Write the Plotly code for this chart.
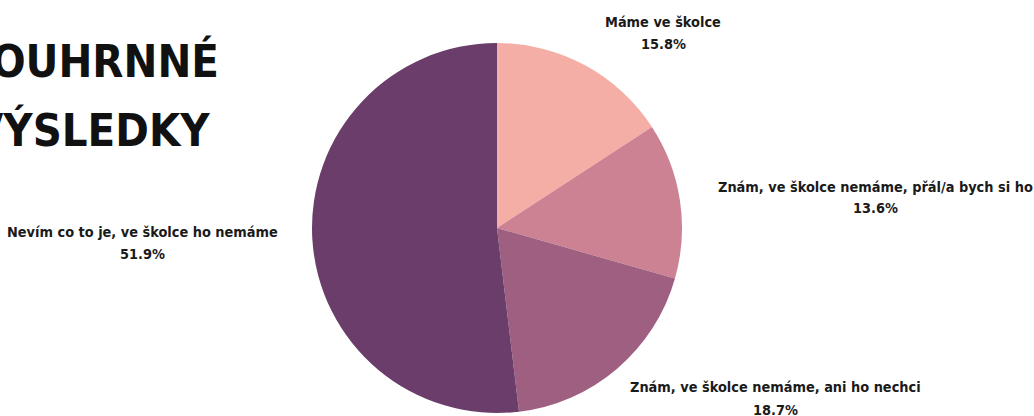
import plotly.graph_objects as go

categories = [
    "Máme ve školce",
    "Znám, ve školce nemáme, přál/a bych si ho",
    "Znám, ve školce nemáme, ani ho nechci",
    "Nevím co to je, ve školce ho nemáme",
]
values = [15.8, 13.6, 18.7, 51.9]
colors = ["#F5AEA6", "#CC8293", "#9E5F80", "#6B3D6B"]
title_lines = ["SOUHRNNÉ", "VÝSLEDKY"]

W, H = 1034, 416
LABEL_FONT = "DejaVu Sans Condensed, DejaVu Sans, sans-serif"

fig = go.Figure(
    go.Pie(
        labels=categories,
        values=values,
        sort=False,
        direction="clockwise",
        rotation=0,
        textinfo="none",
        hoverinfo="label+percent",
        marker=dict(colors=colors, line=dict(width=0)),
        showlegend=False,
        domain=dict(x=[312 / W, 682 / W], y=[1 - 413 / H, 1 - 43 / H]),
    )
)

# label placement (pixel centres): x, y of name line, y of percent line
label_pos = [(663, 22, 44), (875, 187, 208), (775, 387, 410), (142, 232, 254)]
total = sum(values)
for cat, val, (px, py1, py2) in zip(categories, values, label_pos):
    for txt, py in ((cat, py1), (f"{val / total * 100:.1f}%", py2)):
        fig.add_annotation(
            x=px / W, y=1 - py / H, xref="paper", yref="paper",
            xanchor="center", yanchor="middle",
            text=f"<b>{txt}</b>",
            showarrow=False, align="center",
            font=dict(family=LABEL_FONT, size=14.4, color="#1a1a1a"),
        )

title_pos = [(221, 61), (212, 130)]
for line, (px, py) in zip(title_lines, title_pos):
    fig.add_annotation(
        x=px / W, y=1 - py / H, xref="paper", yref="paper",
        xanchor="right", yanchor="middle",
        text=f"<b>{line}</b>", showarrow=False,
        font=dict(family=LABEL_FONT, size=45, color="#111111"),
    )

fig.update_layout(
    width=W, height=H,
    margin=dict(l=0, r=0, t=0, b=0),
    paper_bgcolor="white", plot_bgcolor="white",
)

fig.write_html("out.html")
